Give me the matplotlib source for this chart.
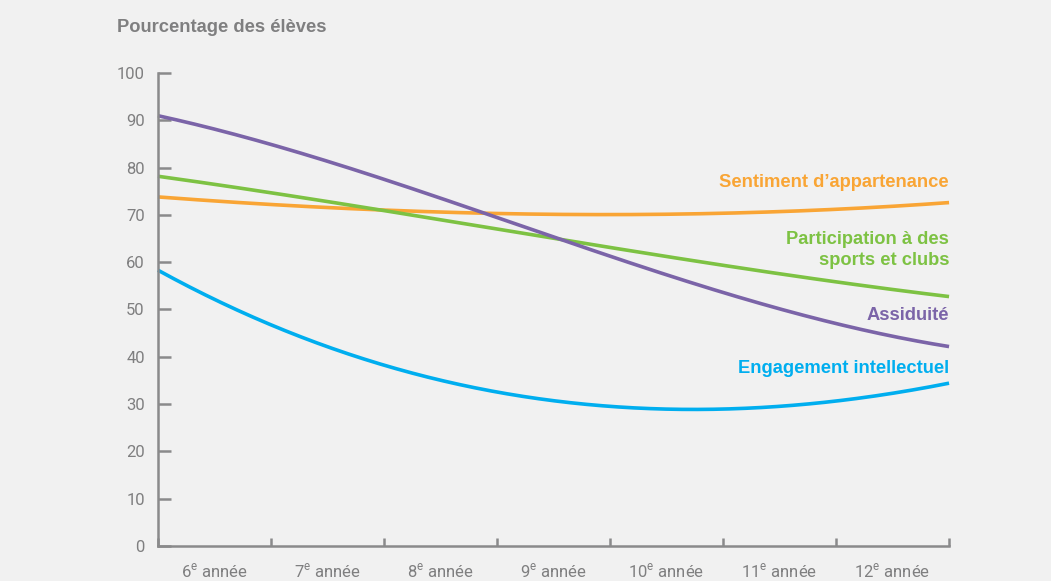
import numpy as np
import matplotlib
matplotlib.use("Agg")
import matplotlib.pyplot as plt

# ---- data ----
categories = ["6", "7", "8", "9", "10", "11", "12"]
boundaries = [0, 1, 2, 3, 4, 5, 6, 7]
sentiment = [73.8, 72.2, 71.0, 70.3, 70.1, 70.3, 71.2, 72.6]
participation = [78.3, 74.5, 70.6, 67.5, 63.1, 59.4, 55.5, 52.9]
assiduite = [90.9, 85.0, 77.6, 69.4, 61.0, 53.8, 47.1, 42.1]
engagement = [58.4, 46.7, 37.9, 32.8, 29.8, 28.9, 30.3, 34.6]
yticks = [0, 10, 20, 30, 40, 50, 60, 70, 80, 90, 100]

plt.rcParams['mathtext.fontset'] = 'custom'
plt.rcParams['mathtext.rm'] = 'Roboto'

BG = "#F1F1F1"
GREY = "#8A8A8B"
TXT = "#7F7F80"
ORANGE = "#F9A535"
GREEN = "#7DC243"
PURPLE = "#7B64A8"
BLUE = "#00AEEF"

fig = plt.figure(figsize=(10.51, 5.81), dpi=100, facecolor=BG)
ax = fig.add_axes([0.1503, 0.0602, 0.903 - 0.1503, 0.8744 - 0.0602])
ax.set_facecolor(BG)

xs = np.linspace(0, 7, 300)
for vals, col in [(sentiment, ORANGE), (participation, GREEN), (assiduite, PURPLE), (engagement, BLUE)]:
    p = np.polyfit(boundaries, vals, 3)
    ax.plot(xs, np.polyval(p, xs), color=col, lw=2.6, solid_capstyle='butt', clip_on=False)

ax.set_xlim(0, 7)
ax.set_ylim(0, 100)
for s in ['top', 'right']:
    ax.spines[s].set_visible(False)
for s in ['left', 'bottom']:
    ax.spines[s].set_color(GREY)
    ax.spines[s].set_linewidth(1.8)

narrow = ['Roboto', 'DejaVu Sans']
ax.set_yticks(yticks)
ax.set_yticklabels([str(v) for v in yticks], family=narrow, fontsize=12, color=TXT)
ax.tick_params(axis='y', direction='in', length=9, width=1.8, color=GREY, pad=9.5)

ax.set_xticks(boundaries)
ax.set_xticklabels([])
ax.tick_params(axis='x', direction='in', length=6, width=1.8, color=GREY)
for i, c in enumerate(categories):
    ax.text(i + 0.5, -5.3, c + r"$^{\mathrm{e}}$" + " année", ha='center', va='center',
            family=narrow, fontsize=12, color=TXT, clip_on=False)

bold = dict(family=['Liberation Sans', 'DejaVu Sans'], fontweight='bold', fontsize=13.2, ha='right', va='center')
ax.text(7, 76.8, "Sentiment d\u2019appartenance", color=ORANGE, **bold)
ax.text(7, 64.7, "Participation à des", color=GREEN, **bold)
ax.text(7, 60.3, "sports et clubs", color=GREEN, **bold)
ax.text(7, 48.8, "Assiduité", color=PURPLE, **bold)
ax.text(7, 37.6, "Engagement intellectuel", color=BLUE, **bold)

fig.text(117 / 1051, 1 - 28 / 581, "Pourcentage des élèves", color=TXT, family=['Liberation Sans', 'DejaVu Sans'],
         fontweight='bold', fontsize=13.2, ha='left', va='center')

fig.savefig("out.png", dpi=100, facecolor=BG)
